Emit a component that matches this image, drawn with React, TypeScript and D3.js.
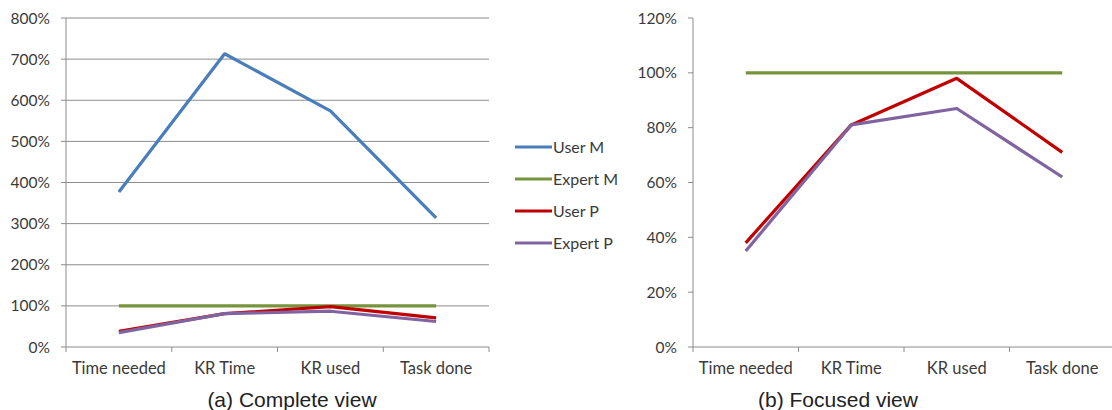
import React from "react";
import * as d3 from "d3";

const categories = ["Time needed", "KR Time", "KR used", "Task done"];
const seriesNames = ["User M", "Expert M", "User P", "Expert P"];
const userM = [377, 713, 574, 314];
const expertM = [100, 100, 100, 100];
const userP = [38, 81, 98, 71];
const expertP = [35, 81, 87, 62];
const colors = ["#4A7EBB", "#77933C", "#C00000", "#8064A2"];
const leftTicks = [0, 100, 200, 300, 400, 500, 600, 700, 800];
const rightTicks = [0, 20, 40, 60, 80, 100, 120];
const captions = ["(a) Complete view", "(b) Focused view"];

const FONT = "Lato, 'Open Sans', sans-serif";
const AXIS = "#8c8c8c";

type PanelProps = {
  x0: number; x1: number; y0: number; y1: number;
  ticks: number[]; series: number[][]; seriesColors: string[];
  grid: boolean; caption: string; captionX: number;
};

function Panel({ x0, x1, y0, y1, ticks, series, seriesColors, grid, caption, captionX }: PanelProps) {
  const x = d3.scaleBand<string>().domain(categories).range([x0, x1]);
  const y = d3.scaleLinear().domain([0, ticks[ticks.length - 1]]).range([y0, y1]);
  const line = d3.line<number>()
    .x((_, i) => (x(categories[i]) as number) + x.bandwidth() / 2)
    .y((d) => y(d));
  const edges = [...categories.map((c) => x(c) as number), x1];
  return (
    <g>
      {ticks.map((t) => (
        <g key={t}>
          {grid && t > 0 && (
            <line x1={x0} x2={x1} y1={y(t)} y2={y(t)} stroke={AXIS} strokeWidth={1} />
          )}
          <line x1={x0 - 5} x2={x0} y1={y(t)} y2={y(t)} stroke={AXIS} strokeWidth={1} />
          <text x={x0 - 16} y={y(t)} dy="0.36em" textAnchor="end" fontFamily={FONT} fontSize={15.5} fill="#3a3a3a">
            {t}%
          </text>
        </g>
      ))}
      <line x1={x0} x2={x0} y1={y0} y2={y1} stroke={AXIS} strokeWidth={1} />
      <line x1={x0} x2={x1} y1={y0} y2={y0} stroke={AXIS} strokeWidth={1} />
      {edges.map((e, i) => (
        <line key={i} x1={e} x2={e} y1={y0} y2={y0 + 5} stroke={AXIS} strokeWidth={1} />
      ))}
      {categories.map((c) => (
        <text key={c} x={(x(c) as number) + x.bandwidth() / 2} y={y0 + 27} textAnchor="middle" fontFamily={FONT} fontSize={16.5} fill="#3a3a3a">
          {c}
        </text>
      ))}
      {series.map((s, i) => (
        <path key={i} d={line(s) as string} fill="none" stroke={seriesColors[i]} strokeWidth={3.2} strokeLinejoin="round" />
      ))}
      <text x={captionX} y={407} textAnchor="middle" fontFamily="'Liberation Sans', Arial, sans-serif" fontSize={21} fill="#222">
        {caption}
      </text>
    </g>
  );
}

export default function App() {
  const all = [userM, expertM, userP, expertP];
  const legendY = d3.scalePoint<string>().domain(seriesNames).range([147, 243]);
  return (
    <svg width={1112} height={410} style={{ position: "absolute", left: 0, top: 0, background: "#fff" }}>
      <rect width={1112} height={410} fill="#fff" />
      <Panel x0={66} x1={489} y0={347} y1={18} ticks={leftTicks} series={all} seriesColors={colors} grid={true} caption={captions[0]} captionX={292} />
      <Panel x0={693} x1={1115} y0={347} y1={18} ticks={rightTicks} series={[expertM, userP, expertP]} seriesColors={colors.slice(1)} grid={false} caption={captions[1]} captionX={838} />
      {seriesNames.map((n, i) => (
        <g key={n}>
          <line x1={515} x2={552} y1={legendY(n)} y2={legendY(n)} stroke={colors[i]} strokeWidth={3.2} />
          <text x={553} y={legendY(n)} dy="0.36em" fontFamily={FONT} fontSize={16} fill="#3a3a3a">{n}</text>
        </g>
      ))}
    </svg>
  );
}
